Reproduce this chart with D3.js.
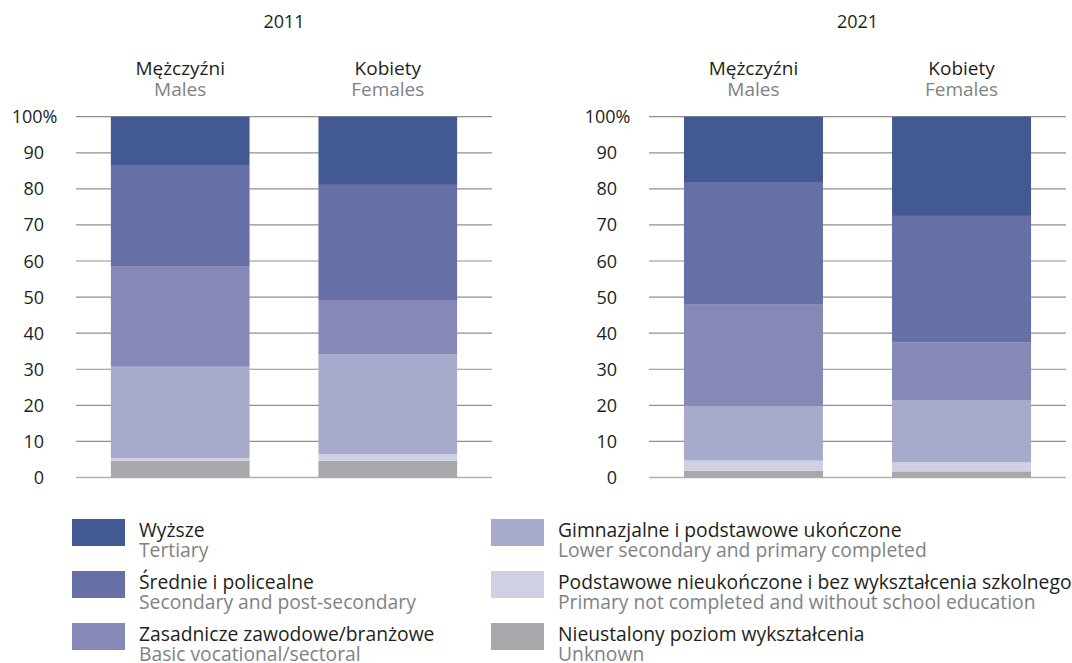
<!DOCTYPE html>
<html>
<head>
<meta charset="utf-8">
<script src="https://cdn.jsdelivr.net/npm/d3@7"></script>
<style>
  html, body { margin: 0; padding: 0; background: #fff; }
  svg { display: block; font-family: "Open Sans", "Noto Sans", sans-serif; }
</style>
</head>
<body>
<svg id="chart" width="1072" height="663"></svg>
<script>
// Population by educational attainment, by sex (percent)
const years = ["2011", "2021"];
const sexesPl = ["Mężczyźni", "Kobiety"];
const sexesEn = ["Males", "Females"];

// education levels, stacked bottom to top
const levelKeys = ["unknown", "primaryNotCompleted", "lowerSecondary", "vocational", "secondary", "tertiary"];
const levelsPl = [
  "Nieustalony poziom wykształcenia",
  "Podstawowe nieukończone i bez wykształcenia szkolnego",
  "Gimnazjalne i podstawowe ukończone",
  "Zasadnicze zawodowe/branżowe",
  "Średnie i policealne",
  "Wyższe"
];
const levelsEn = [
  "Unknown",
  "Primary not completed and without school education",
  "Lower secondary and primary completed",
  "Basic vocational/sectoral",
  "Secondary and post-secondary",
  "Tertiary"
];
const levelColors = ["#a7a8ab", "#cfd0e4", "#a7aacb", "#8689b8", "#6770a6", "#435994"];

// shares in the order of levelKeys
const males2011   = [4.6, 0.8, 25.3, 27.9, 28.0, 13.4];
const females2011 = [4.6, 1.9, 27.7, 15.0, 31.9, 18.9];
const males2021   = [1.9, 2.8, 15.2, 28.0, 34.0, 18.1];
const females2021 = [1.7, 2.5, 17.1, 16.1, 35.1, 27.5];

const yTicks = [0, 10, 20, 30, 40, 50, 60, 70, 80, 90, 100];

const panelValues = [[males2011, females2011], [males2021, females2021]];

const svg = d3.select("#chart");
const y = d3.scaleLinear().domain([0, 100]).range([477.5, 116.7]);

const panelRanges = [[76, 492], [649, 1066]];

const rowFor = (vals, i) => {
  const r = { sex: sexesPl[i] };
  levelKeys.forEach((k, j) => r[k] = vals[j]);
  return r;
};

const stack = d3.stack().keys(levelKeys);
const color = d3.scaleOrdinal().domain(levelKeys).range(levelColors);

const textDark = "#231f20";
const textGray = "#808285";

years.forEach((year, p) => {
  const [x0, x1] = panelRanges[p];
  const g = svg.append("g");
  const x = d3.scaleBand().domain(sexesPl).range([x0, x1])
    .paddingInner(0.332).paddingOuter(0.168);

  // gridlines
  g.selectAll("line.grid").data(yTicks).join("line")
    .attr("x1", x0).attr("x2", x1)
    .attr("y1", d => y(d)).attr("y2", d => y(d))
    .attr("stroke", d => d === 0 ? "#b0b0b0" : "#8f8f8f")
    .attr("stroke-width", d => d === 0 ? 1.6 : 1.2);

  // tick labels, numbers right-aligned with the percent sign hanging past them
  const tl = g.selectAll("text.tick").data(yTicks).join("text")
    .attr("x", x0 - 32).attr("y", d => y(d) + 6.5)
    .attr("font-size", 18)
    .attr("fill", textDark);
  tl.append("tspan").attr("text-anchor", "end").text(d => d);
  tl.filter(d => d === 100).append("tspan").text("%");
  tl.filter(d => d === 100).attr("text-anchor", "end")
    .attr("x", x0 - 32 + 13.5).text("100%");

  // stacked bars
  const rows = panelValues[p].map(rowFor);
  const series = stack(rows);
  g.selectAll("g.layer").data(series).join("g")
    .attr("fill", d => color(d.key))
    .selectAll("rect").data(d => d).join("rect")
    .attr("x", d => x(d.data.sex))
    .attr("width", x.bandwidth())
    .attr("y", d => y(d[1]))
    .attr("height", d => y(d[0]) - y(d[1]));

  // year title
  g.append("text")
    .attr("x", (x0 + x1) / 2).attr("y", 28)
    .attr("text-anchor", "middle")
    .attr("font-size", 18)
    .attr("fill", textDark)
    .text(year);

  // category headers (Polish over English)
  sexesPl.forEach((s, i) => {
    const cx = x(s) + x.bandwidth() / 2;
    const t = g.append("text").attr("text-anchor", "middle").attr("font-size", 19);
    t.append("tspan").attr("x", cx).attr("y", 75).attr("fill", textDark).text(s);
    t.append("tspan").attr("x", cx).attr("y", 96).attr("fill", textGray).text(sexesEn[i]);
  });
});

// legend: three rows in two columns, tertiary first
const legendOrder = [5, 4, 3, 2, 1, 0];
const legend = svg.append("g");
const items = legend.selectAll("g.item").data(legendOrder).join("g")
  .attr("transform", (d, i) => {
    const col = Math.floor(i / 3), row = i % 3;
    return `translate(${col === 0 ? 72 : 491},${519 + row * 52})`;
  });
items.append("rect")
  .attr("width", 53).attr("height", 27)
  .attr("fill", d => levelColors[d]);
const lt = items.append("text").attr("font-size", 19.3);
lt.append("tspan").attr("x", 67).attr("y", 17.7).attr("fill", textDark).text(d => levelsPl[d]);
lt.append("tspan").attr("x", 67).attr("y", 38.3).attr("fill", textGray).text(d => levelsEn[d]);
</script>
</body>
</html>
